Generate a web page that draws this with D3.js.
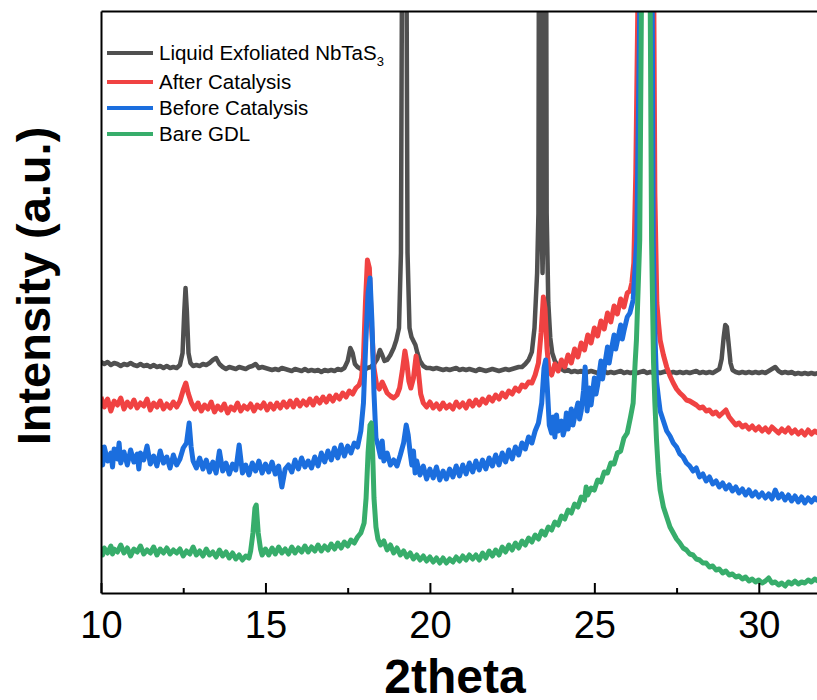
<!DOCTYPE html>
<html>
<head>
<meta charset="utf-8">
<script src="https://cdn.jsdelivr.net/npm/d3@7"></script>
<style>
  body { margin: 0; background: #fff; }
  svg { display: block; font-family: "Liberation Sans", Arial, sans-serif; }
</style>
</head>
<body>
<div id="chart"></div>
<script>
// XRD patterns, [2theta, counts]
const seriesNames = ["Liquid Exfoliated NbTaS", "After Catalysis", "Before Catalysis", "Bare GDL"];
const seriesColors = ["#505050", "#F04242", "#1B6EDE", "#37AD6B"];
const majorTicks = [10, 15, 20, 25, 30];
const minorTicks = [12.5, 17.5, 22.5, 27.5];

const exfoliated = [[10.0,2310],[10.1,2290],[10.2,2310],[10.3,2280],[10.4,2300],[10.5,2290],[10.6,2270],[10.7,2290],[10.8,2280],[10.9,2300],[11.0,2280],[11.1,2270],[11.2,2290],[11.3,2270],[11.4,2280],[11.5,2260],[11.6,2280],[11.7,2260],[11.8,2270],[11.9,2250],[12.0,2270],[12.1,2250],[12.2,2260],[12.3,2250],[12.4,2280],[12.48,2400],[12.53,2800],[12.57,3050],[12.61,2820],[12.66,2400],[12.72,2300],[12.8,2270],[12.9,2280],[13.0,2270],[13.1,2290],[13.2,2280],[13.3,2300],[13.4,2330],[13.5,2350],[13.6,2290],[13.7,2260],[13.8,2240],[13.9,2260],[14.0,2250],[14.1,2240],[14.2,2260],[14.3,2250],[14.4,2240],[14.5,2260],[14.6,2270],[14.7,2290],[14.8,2250],[14.9,2260],[15.0,2250],[15.1,2240],[15.2,2230],[15.3,2240],[15.4,2230],[15.5,2250],[15.6,2240],[15.7,2230],[15.8,2220],[15.9,2240],[16.0,2230],[16.1,2220],[16.2,2240],[16.3,2220],[16.4,2230],[16.5,2220],[16.6,2230],[16.7,2210],[16.8,2230],[16.9,2220],[17.0,2230],[17.1,2220],[17.2,2240],[17.3,2230],[17.4,2250],[17.5,2320],[17.58,2450],[17.65,2400],[17.72,2290],[17.8,2260],[17.9,2240],[18.0,2230],[18.1,2250],[18.2,2260],[18.3,2290],[18.4,2340],[18.48,2430],[18.55,2380],[18.62,2320],[18.7,2330],[18.8,2380],[18.9,2450],[18.98,2530],[19.06,2650],[19.12,3400],[19.16,7000],[19.22,9000],[19.28,7000],[19.32,3400],[19.38,2650],[19.44,2560],[19.5,2520],[19.56,2480],[19.62,2400],[19.7,2320],[19.8,2270],[19.9,2250],[20.0,2250],[20.1,2240],[20.2,2250],[20.3,2240],[20.4,2230],[20.5,2240],[20.6,2230],[20.7,2240],[20.8,2250],[20.9,2230],[21.0,2240],[21.1,2230],[21.2,2240],[21.3,2230],[21.4,2220],[21.5,2240],[21.6,2230],[21.7,2220],[21.8,2230],[21.9,2240],[22.0,2230],[22.1,2220],[22.2,2230],[22.3,2240],[22.4,2230],[22.5,2240],[22.6,2250],[22.7,2260],[22.8,2260],[22.9,2290],[23.0,2330],[23.1,2410],[23.18,2650],[23.26,3200],[23.3,3800],[23.345,12000],[23.39,3800],[23.425,3200],[23.46,3800],[23.505,12000],[23.55,3800],[23.6,2900],[23.66,2550],[23.72,2400],[23.8,2320],[23.9,2270],[24.0,2240],[24.1,2220],[24.2,2230],[24.3,2210],[24.4,2220],[24.5,2210],[24.6,2220],[24.7,2200],[24.8,2210],[24.9,2220],[25.0,2210],[25.1,2200],[25.2,2210],[25.3,2220],[25.4,2200],[25.5,2210],[25.6,2200],[25.7,2210],[25.8,2220],[25.9,2200],[26.0,2210],[26.1,2200],[26.2,2210],[26.3,2200],[26.4,2210],[26.5,2220],[26.6,2200],[26.7,2210],[26.8,2200],[26.9,2210],[27.0,2200],[27.1,2210],[27.2,2220],[27.3,2200],[27.4,2210],[27.5,2200],[27.6,2210],[27.7,2200],[27.8,2210],[27.9,2200],[28.0,2210],[28.1,2220],[28.2,2200],[28.3,2210],[28.4,2200],[28.5,2210],[28.6,2200],[28.7,2220],[28.8,2240],[28.87,2340],[28.93,2550],[28.98,2680],[29.03,2660],[29.08,2500],[29.14,2300],[29.2,2230],[29.3,2210],[29.4,2200],[29.5,2210],[29.6,2200],[29.7,2210],[29.8,2200],[29.9,2210],[30.0,2200],[30.1,2210],[30.2,2200],[30.3,2220],[30.4,2240],[30.5,2260],[30.6,2220],[30.7,2200],[30.8,2210],[30.9,2200],[31.0,2210],[31.1,2190],[31.2,2200],[31.3,2190],[31.4,2200],[31.5,2190],[31.6,2200],[31.7,2190],[31.8,2200]];

const afterCat = [[10.0,1960],[10.1,1860],[10.2,1940],[10.3,1820],[10.4,1920],[10.5,1880],[10.6,1950],[10.7,1840],[10.8,1910],[10.9,1860],[11.0,1930],[11.1,1850],[11.2,1900],[11.3,1870],[11.4,1940],[11.5,1830],[11.6,1900],[11.7,1860],[11.8,1920],[11.9,1840],[12.0,1890],[12.1,1850],[12.2,1910],[12.3,1860],[12.4,1920],[12.5,2030],[12.58,2100],[12.65,2000],[12.75,1900],[12.85,1840],[12.95,1900],[13.05,1820],[13.15,1880],[13.25,1840],[13.35,1910],[13.45,1810],[13.55,1870],[13.65,1830],[13.75,1890],[13.85,1800],[13.95,1860],[14.05,1830],[14.15,1900],[14.25,1820],[14.35,1870],[14.45,1840],[14.55,1890],[14.65,1820],[14.75,1880],[14.85,1850],[14.95,1900],[15.05,1830],[15.15,1890],[15.25,1840],[15.35,1900],[15.45,1850],[15.55,1910],[15.65,1860],[15.75,1920],[15.85,1860],[15.95,1930],[16.05,1870],[16.15,1920],[16.25,1880],[16.35,1940],[16.45,1880],[16.55,1950],[16.65,1900],[16.75,1960],[16.85,1910],[16.95,1970],[17.05,1920],[17.15,1980],[17.25,1940],[17.35,2000],[17.45,1960],[17.55,2020],[17.65,1990],[17.75,2050],[17.85,2080],[17.92,2150],[17.98,2350],[18.04,2900],[18.1,3330],[18.16,3250],[18.22,2700],[18.3,2250],[18.38,2080],[18.46,2040],[18.55,2110],[18.62,2060],[18.7,2000],[18.8,1970],[18.9,1950],[19.0,1980],[19.08,2050],[19.16,2220],[19.24,2420],[19.3,2300],[19.36,2120],[19.42,2050],[19.5,2150],[19.58,2370],[19.64,2250],[19.72,1990],[19.8,1900],[19.9,1860],[20.0,1910],[20.1,1850],[20.2,1890],[20.3,1840],[20.4,1900],[20.5,1850],[20.6,1880],[20.7,1840],[20.8,1910],[20.9,1860],[21.0,1900],[21.1,1850],[21.2,1920],[21.3,1870],[21.4,1930],[21.5,1880],[21.6,1940],[21.7,1900],[21.8,1960],[21.9,1920],[22.0,1980],[22.1,1940],[22.2,2000],[22.3,1960],[22.4,2020],[22.5,1990],[22.6,2050],[22.7,2020],[22.8,2080],[22.9,2060],[23.0,2110],[23.1,2100],[23.2,2180],[23.3,2300],[23.38,2600],[23.45,2960],[23.5,2850],[23.56,2450],[23.62,2220],[23.7,2180],[23.8,2290],[23.9,2220],[24.0,2330],[24.1,2260],[24.2,2380],[24.3,2300],[24.4,2440],[24.5,2360],[24.6,2500],[24.7,2430],[24.8,2580],[24.9,2500],[25.0,2650],[25.1,2570],[25.2,2720],[25.3,2640],[25.4,2800],[25.5,2710],[25.6,2870],[25.7,2790],[25.8,2940],[25.9,2860],[26.0,3000],[26.08,3020],[26.14,3100],[26.2,3300],[26.26,4200],[26.32,5820],[26.36,15000],[26.5,20000],[26.76,15000],[26.81,5820],[26.84,4000],[26.9,2900],[26.95,2700],[27.0,2530],[27.1,2380],[27.2,2260],[27.3,2170],[27.4,2100],[27.5,2040],[27.6,2000],[27.7,1970],[27.8,1930],[27.9,1920],[28.0,1900],[28.1,1880],[28.2,1850],[28.3,1860],[28.4,1820],[28.5,1830],[28.6,1790],[28.7,1810],[28.8,1770],[28.9,1800],[29.0,1830],[29.1,1760],[29.2,1720],[29.3,1680],[29.4,1700],[29.5,1660],[29.6,1680],[29.7,1640],[29.8,1670],[29.9,1630],[30.0,1660],[30.1,1620],[30.2,1650],[30.3,1610],[30.4,1660],[30.5,1630],[30.6,1600],[30.7,1640],[30.8,1610],[30.9,1650],[31.0,1600],[31.1,1630],[31.2,1590],[31.3,1620],[31.4,1580],[31.5,1630],[31.6,1590],[31.7,1620],[31.8,1600]];

const beforeCat = [[10.0,1480],[10.05,1280],[10.1,1460],[10.2,1320],[10.3,1400],[10.35,1260],[10.4,1440],[10.5,1340],[10.55,1500],[10.6,1300],[10.7,1410],[10.8,1280],[10.9,1430],[11.0,1310],[11.1,1390],[11.15,1240],[11.2,1400],[11.3,1330],[11.4,1470],[11.5,1290],[11.6,1370],[11.7,1270],[11.8,1420],[11.9,1300],[12.0,1360],[12.1,1250],[12.2,1380],[12.3,1280],[12.4,1340],[12.5,1450],[12.6,1500],[12.68,1700],[12.74,1460],[12.8,1320],[12.9,1250],[13.0,1350],[13.1,1240],[13.2,1330],[13.3,1210],[13.4,1310],[13.5,1200],[13.6,1420],[13.7,1220],[13.8,1300],[13.9,1190],[14.0,1290],[14.1,1230],[14.2,1480],[14.3,1200],[14.4,1280],[14.5,1180],[14.6,1300],[14.7,1220],[14.8,1320],[14.9,1200],[15.0,1290],[15.1,1210],[15.2,1310],[15.3,1190],[15.4,1270],[15.5,1060],[15.6,1240],[15.7,1280],[15.8,1210],[15.9,1330],[16.0,1240],[16.1,1350],[16.2,1260],[16.3,1320],[16.4,1250],[16.5,1360],[16.6,1270],[16.7,1400],[16.8,1310],[16.9,1420],[17.0,1330],[17.1,1450],[17.2,1350],[17.3,1480],[17.4,1370],[17.5,1470],[17.6,1400],[17.7,1500],[17.8,1460],[17.9,1620],[17.98,1900],[18.05,2500],[18.12,3000],[18.18,3150],[18.24,2700],[18.3,2000],[18.36,1550],[18.42,1480],[18.5,1360],[18.55,1520],[18.6,1320],[18.7,1400],[18.8,1280],[18.9,1330],[19.0,1270],[19.1,1380],[19.2,1500],[19.28,1680],[19.34,1580],[19.4,1400],[19.45,1280],[19.5,1420],[19.55,1200],[19.6,1320],[19.7,1180],[19.8,1270],[19.9,1140],[20.0,1240],[20.1,1150],[20.2,1260],[20.3,1130],[20.4,1220],[20.5,1140],[20.6,1240],[20.7,1160],[20.8,1270],[20.9,1170],[21.0,1280],[21.1,1190],[21.2,1300],[21.3,1210],[21.4,1320],[21.5,1230],[21.6,1330],[21.7,1240],[21.8,1350],[21.9,1270],[22.0,1380],[22.1,1280],[22.2,1400],[22.3,1310],[22.4,1430],[22.5,1340],[22.6,1460],[22.7,1380],[22.8,1500],[22.9,1440],[23.0,1560],[23.1,1500],[23.2,1620],[23.3,1700],[23.4,1900],[23.47,2250],[23.52,2330],[23.57,2050],[23.63,1680],[23.7,1600],[23.75,1760],[23.8,1560],[23.85,1780],[23.9,1620],[24.0,1720],[24.05,1580],[24.1,1640],[24.15,1800],[24.2,1640],[24.3,1840],[24.35,1680],[24.4,1760],[24.5,1900],[24.55,1740],[24.6,1820],[24.67,2020],[24.72,2260],[24.78,1820],[24.85,2050],[24.9,1880],[25.0,2150],[25.05,1990],[25.1,2080],[25.2,2320],[25.25,2140],[25.3,2250],[25.4,2460],[25.45,2300],[25.5,2400],[25.6,2580],[25.65,2440],[25.7,2520],[25.8,2680],[25.85,2540],[25.9,2620],[26.0,2760],[26.08,2800],[26.18,2930],[26.29,3530],[26.38,5820],[26.42,15000],[26.6,20000],[26.72,15000],[26.76,5820],[26.79,3530],[26.84,2600],[26.89,2120],[26.95,1950],[27.0,1820],[27.1,1720],[27.2,1620],[27.3,1570],[27.4,1500],[27.5,1460],[27.6,1390],[27.7,1360],[27.8,1300],[27.9,1270],[28.0,1220],[28.1,1250],[28.2,1160],[28.3,1190],[28.4,1120],[28.5,1160],[28.6,1090],[28.7,1120],[28.8,1060],[28.9,1100],[29.0,1040],[29.1,1080],[29.2,1020],[29.3,1060],[29.4,1000],[29.5,1040],[29.6,980],[29.7,1030],[29.8,970],[29.9,1010],[30.0,960],[30.1,1000],[30.2,950],[30.3,990],[30.4,940],[30.5,1030],[30.6,950],[30.7,990],[30.8,930],[30.9,980],[31.0,920],[31.1,970],[31.2,910],[31.3,960],[31.4,900],[31.5,950],[31.6,910],[31.7,950],[31.8,920]];

const bareGdl = [[10.0,460],[10.05,380],[10.1,450],[10.2,400],[10.3,470],[10.35,390],[10.4,440],[10.5,410],[10.6,480],[10.7,400],[10.8,450],[10.9,370],[11.0,440],[11.1,410],[11.2,470],[11.3,390],[11.4,430],[11.5,400],[11.6,460],[11.7,380],[11.8,440],[11.9,400],[12.0,450],[12.1,390],[12.2,430],[12.3,400],[12.4,440],[12.5,370],[12.6,420],[12.7,390],[12.8,460],[12.9,380],[13.0,420],[13.1,370],[13.2,440],[13.3,380],[13.4,410],[13.5,360],[13.6,430],[13.7,370],[13.8,410],[13.9,350],[14.0,400],[14.1,340],[14.2,380],[14.3,330],[14.4,370],[14.5,350],[14.55,420],[14.62,600],[14.68,850],[14.72,880],[14.78,600],[14.85,440],[14.9,380],[15.0,440],[15.1,380],[15.2,450],[15.3,390],[15.4,460],[15.5,400],[15.6,440],[15.7,390],[15.8,460],[15.9,400],[16.0,450],[16.1,410],[16.2,470],[16.3,410],[16.4,460],[16.5,420],[16.6,480],[16.7,420],[16.8,470],[16.9,430],[17.0,490],[17.1,440],[17.2,500],[17.3,450],[17.4,510],[17.5,470],[17.6,530],[17.7,500],[17.8,560],[17.9,600],[18.0,700],[18.06,950],[18.12,1400],[18.18,1680],[18.22,1700],[18.26,1400],[18.3,950],[18.36,660],[18.42,540],[18.5,480],[18.6,520],[18.7,430],[18.8,480],[18.9,400],[19.0,450],[19.1,380],[19.2,420],[19.3,360],[19.4,400],[19.5,340],[19.6,380],[19.7,330],[19.8,370],[19.9,320],[20.0,360],[20.1,310],[20.2,350],[20.3,300],[20.4,350],[20.5,300],[20.6,340],[20.7,310],[20.8,360],[20.9,320],[21.0,370],[21.1,330],[21.2,380],[21.3,340],[21.4,380],[21.5,330],[21.6,400],[21.7,350],[21.8,420],[21.9,370],[22.0,430],[22.1,380],[22.2,460],[22.3,410],[22.4,480],[22.5,430],[22.6,500],[22.7,450],[22.8,520],[22.9,480],[23.0,550],[23.1,510],[23.2,580],[23.3,540],[23.4,620],[23.5,580],[23.6,660],[23.7,630],[23.8,710],[23.9,680],[24.0,770],[24.1,740],[24.2,830],[24.3,800],[24.4,890],[24.5,860],[24.6,960],[24.7,930],[24.75,1060],[24.8,980],[24.9,1050],[25.0,1030],[25.1,1130],[25.2,1110],[25.3,1210],[25.4,1200],[25.5,1300],[25.6,1290],[25.7,1400],[25.8,1420],[25.9,1550],[26.0,1600],[26.1,1760],[26.18,1900],[26.24,2300],[26.28,2530],[26.38,3530],[26.43,5820],[26.46,20000],[26.57,30000],[26.68,20000],[26.7,5820],[26.74,3530],[26.8,2300],[26.84,1900],[26.89,1530],[26.95,1200],[27.0,1030],[27.1,860],[27.2,760],[27.3,660],[27.4,600],[27.5,540],[27.6,500],[27.7,450],[27.8,430],[27.9,390],[28.0,380],[28.1,340],[28.2,330],[28.3,300],[28.4,300],[28.5,260],[28.6,270],[28.7,230],[28.8,240],[28.9,200],[29.0,220],[29.1,180],[29.2,190],[29.3,160],[29.4,170],[29.5,140],[29.6,160],[29.7,120],[29.8,140],[29.9,110],[30.0,130],[30.1,100],[30.2,120],[30.3,150],[30.4,100],[30.5,110],[30.6,80],[30.7,100],[30.8,70],[30.9,110],[31.0,90],[31.1,120],[31.2,90],[31.3,110],[31.4,100],[31.5,130],[31.6,110],[31.7,140],[31.8,120]];

const allSeries = [exfoliated, afterCat, beforeCat, bareGdl];
const strokeWidths = [4.5, 5, 5, 5];

const width = 817, height = 700;
const plotLeft = 101, plotRight = 818, plotTop = 11, plotBottom = 593;

const svg = d3.select("#chart")
  .append("svg")
  .attr("width", width)
  .attr("height", height);

const x = d3.scaleLinear().domain([10, 31.8]).range([plotLeft, plotRight]);
const y = d3.scaleLinear().domain([0, 5820]).range([plotBottom, plotTop]);

svg.append("clipPath").attr("id", "plot-clip")
  .append("rect")
  .attr("x", plotLeft).attr("y", plotTop)
  .attr("width", plotRight - plotLeft).attr("height", plotBottom - plotTop);

const line = d3.line().x(d => x(d[0])).y(d => y(d[1]));

// traces, first series at the back
svg.append("g")
  .attr("clip-path", "url(#plot-clip)")
  .selectAll("path")
  .data(allSeries)
  .join("path")
  .attr("d", line)
  .attr("fill", "none")
  .attr("stroke", (d, i) => seriesColors[i])
  .attr("stroke-width", (d, i) => strokeWidths[i])
  .attr("stroke-linejoin", "round");

// bottom axis with inward ticks
const xAxis = svg.append("g")
  .attr("transform", `translate(0,${plotBottom})`)
  .call(d3.axisBottom(x).tickValues(majorTicks).tickSize(-10).tickSizeOuter(0).tickPadding(18));
xAxis.selectAll("text").style("font-size", "38px").attr("fill", "#000");

svg.append("g")
  .attr("transform", `translate(0,${plotBottom})`)
  .call(d3.axisBottom(x).tickValues(minorTicks).tickSize(-5).tickSizeOuter(0).tickFormat(""))
  .select(".domain").remove();

svg.append("g")
  .attr("transform", `translate(${plotLeft},0)`)
  .call(d3.axisLeft(y).tickValues([]).tickSizeOuter(0));

svg.append("g")
  .attr("transform", `translate(0,${plotTop})`)
  .call(d3.axisTop(x).tickValues([]).tickSizeOuter(0));

svg.selectAll(".domain, .tick line").attr("stroke", "#000").attr("stroke-width", 2);

// axis titles
svg.append("text")
  .attr("x", 455).attr("y", 693)
  .attr("text-anchor", "middle")
  .style("font-size", "48px").style("font-weight", "bold")
  .text("2theta");

svg.append("text")
  .attr("transform", "translate(50,286) rotate(-90)")
  .attr("text-anchor", "middle")
  .style("font-size", "47px").style("font-weight", "bold")
  .text("Intensity (a.u.)");

// legend
const legendRowY = [53, 82, 108, 134];
const legend = svg.append("g")
  .selectAll("g")
  .data(seriesNames)
  .join("g")
  .attr("transform", (d, i) => `translate(107,${legendRowY[i]})`);

legend.append("line")
  .attr("x1", 0).attr("x2", 46)
  .attr("stroke", (d, i) => seriesColors[i])
  .attr("stroke-width", 4);

const labels = legend.append("text")
  .attr("x", 52).attr("y", 7)
  .style("font-size", "20.5px")
  .text(d => d);

labels.filter((d, i) => i === 0)
  .append("tspan")
  .attr("dy", 6)
  .style("font-size", "13px")
  .text("3");
</script>
</body>
</html>
